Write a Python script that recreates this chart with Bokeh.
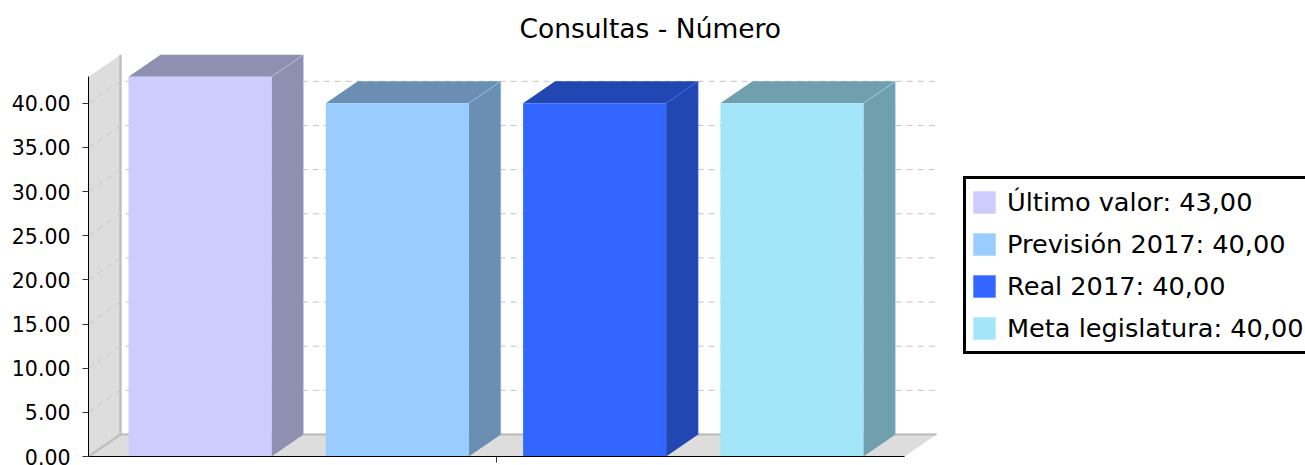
from bokeh.plotting import figure
from bokeh.models import Range1d, FixedTicker, Legend, LegendItem, NumeralTickFormatter
from bokeh.embed import file_html
from bokeh.resources import INLINE

# ---- data ----
series = ["Último valor", "Previsión 2017", "Real 2017", "Meta legislatura"]
values = [43.0, 40.0, 40.0, 40.0]
value_labels = ["43,00", "40,00", "40,00", "40,00"]
front_colors = ["#CCCCFF", "#99CCFF", "#3366FF", "#A3E6F9"]
side_colors = ["#8F8FB2", "#6B8FB2", "#2347B2", "#70A0AE"]
y_ticks = [0, 5, 10, 15, 20, 25, 30, 35, 40]
chart_title = "Consultas - Número"

# ---- layout (pixels) ----
LEFT, BOTTOM = 88, 9
FRAME_W, FRAME_H = 1217, 412
PX_PER_UNIT = 8.83
DX = 32
DY = 22 / PX_PER_UNIT
AXIS_LEN = 816
BAR_W = 143
BAR_STEP = 197.3
BAR_START = 40

p = figure(frame_width=FRAME_W, frame_height=FRAME_H, output_backend="svg", toolbar_location=None,
           x_range=Range1d(0, FRAME_W), y_range=Range1d(0, FRAME_H / PX_PER_UNIT),
           min_border_left=LEFT, min_border_bottom=BOTTOM, min_border_top=44, min_border_right=0,
           tools="", background_fill_color="white", border_fill_color="white")
p.outline_line_color = None
p.grid.visible = False

p.title.text = chart_title
p.title.text_font = "DejaVu Sans"
p.title.text_font_size = "26.5px"
p.title.text_font_style = "normal"
p.title.text_color = "black"
p.title.align = "left"
p.title.offset = 431
p.title.standoff = 1

# ---- 3D walls and floor ----
y_top = values[0]
wall = "#DDDDDD"
edge = "#C0C0C0"
p.patch([0, DX, DX, 0], [0, DY, y_top + DY, y_top], fill_color=wall, line_color=None)
p.patch([0, DX, AXIS_LEN + DX, AXIS_LEN], [0, DY, DY, 0], fill_color=wall, line_color=None)
p.line([0, DX, DX], [0, DY, y_top + DY], line_color=edge, line_width=2.5)
p.line([DX, AXIS_LEN + DX], [DY, DY], line_color=edge, line_width=2.5)

# ---- dashed gridlines ----
gx = [[0, DX, AXIS_LEN + DX] for t in y_ticks[1:]]
gy = [[t, t + DY, t + DY] for t in y_ticks[1:]]
p.multi_line(gx, gy, line_color="#C4C4C4", line_width=1, line_dash="6 5")

# ---- bars ----
items = []
for i, (name, v, lab, fc, sc) in enumerate(zip(series, values, value_labels, front_colors, side_colors)):
    x0 = BAR_START + i * BAR_STEP
    x1 = x0 + BAR_W
    p.patch([x0, x0 + DX, x1 + DX, x1], [v, v + DY, v + DY, v], fill_color=sc, line_color=None)
    p.patch([x1, x1 + DX, x1 + DX, x1], [0, DY, v + DY, v], fill_color=sc, line_color=None)
    p.line([x1, x1 + DX, x1 + DX], [v, v + DY, DY], line_color=fc, line_alpha=0.55, line_width=1)
    r = p.quad(left=x0, right=x1, bottom=0, top=v, fill_color=fc, line_color=None)
    items.append(LegendItem(label=f"{name}: {lab}", renderers=[r]))

# ---- axes ----
ya = p.yaxis[0]
ya.ticker = FixedTicker(ticks=y_ticks)
ya.formatter = NumeralTickFormatter(format="0.00")
ya.bounds = (0, y_top)
ya.axis_line_color = "black"
ya.axis_line_width = 1
ya.major_tick_line_color = "#333333"
ya.major_tick_in = 0
ya.major_tick_out = 6
ya.minor_tick_line_color = None
ya.major_label_text_font = "DejaVu Sans"
ya.major_label_text_font_size = "20.5px"
ya.major_label_text_color = "black"
ya.major_label_standoff = 12

xa = p.xaxis[0]
xa.ticker = FixedTicker(ticks=[AXIS_LEN / 2])
xa.major_label_overrides = {AXIS_LEN / 2: ""}
xa.bounds = (0, AXIS_LEN)
xa.axis_line_color = "black"
xa.axis_line_width = 1
xa.major_tick_line_color = "#333333"
xa.major_tick_in = 0
xa.major_tick_out = 6
xa.minor_tick_line_color = None

# ---- legend ----
leg = Legend(items=items, location=(875, 102), orientation="vertical",
             border_line_color="black", border_line_alpha=1, border_line_width=3,
             background_fill_color="white", background_fill_alpha=1,
             label_text_font="DejaVu Sans", label_text_font_size="25.6px",
             label_text_color="black", glyph_width=28, glyph_height=28, label_standoff=9,
             padding=4, margin=0, spacing=4, label_height=38)
p.add_layout(leg, "center")

open("out.html", "w").write(file_html(p, INLINE))
